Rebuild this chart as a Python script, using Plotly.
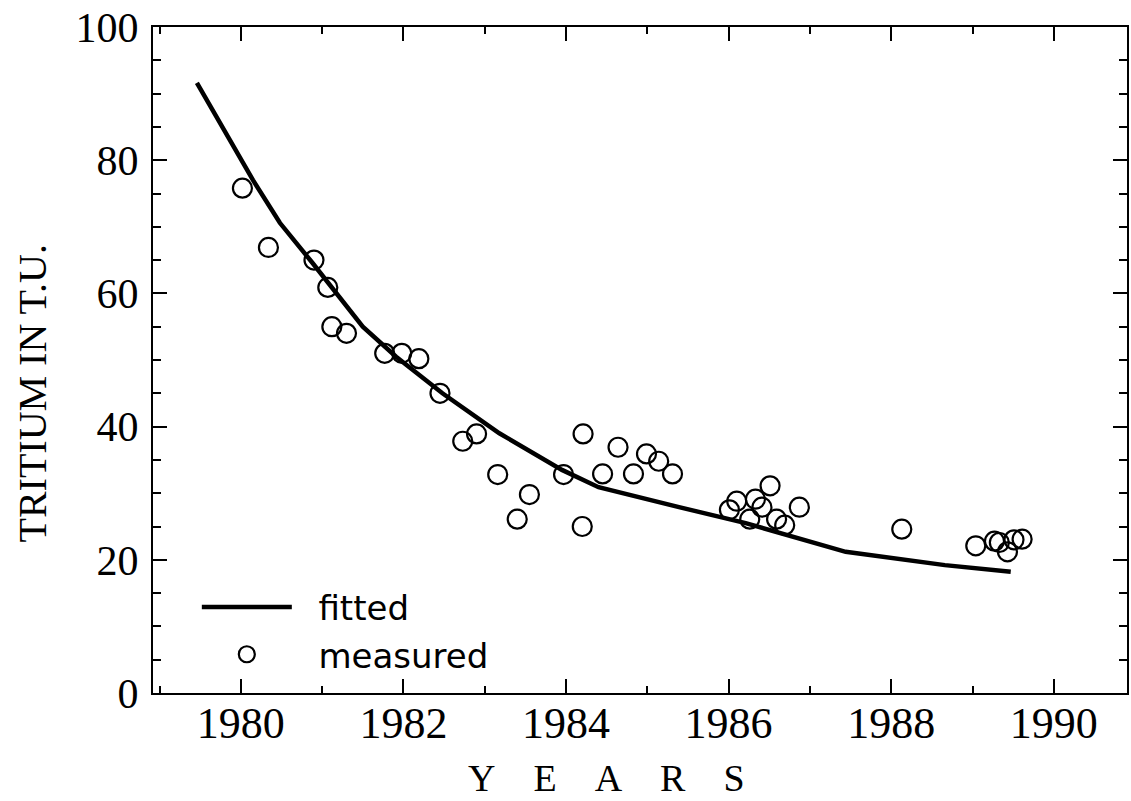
import plotly.graph_objects as go

# Measured tritium values (T.U.) by year
meas_year = [1980.02, 1980.34, 1980.90, 1981.07, 1981.12, 1981.30, 1981.77, 1981.98, 1982.19,
             1982.45, 1982.73, 1982.90, 1983.16, 1983.40, 1983.55, 1983.97, 1984.20, 1984.21,
             1984.45, 1984.64, 1984.83, 1984.99, 1985.14, 1985.31, 1986.01, 1986.10, 1986.26,
             1986.33, 1986.41, 1986.51, 1986.59, 1986.69, 1986.87, 1988.13, 1989.04, 1989.27,
             1989.33, 1989.43, 1989.51, 1989.61]
meas_tu = [75.8, 66.9, 65.0, 60.9, 55.0, 54.0, 51.0, 51.0, 50.2,
           45.0, 37.8, 38.9, 32.8, 26.1, 29.8, 32.8, 25.0, 38.9,
           32.9, 36.9, 32.9, 35.9, 34.8, 32.9, 27.5, 28.8, 26.1,
           29.1, 27.9, 31.1, 26.1, 25.2, 27.9, 24.6, 22.1, 22.8,
           22.6, 21.2, 23.0, 23.1]

# Fitted curve
fit_year = [1979.46, 1980.15, 1980.48, 1980.88, 1981.50, 1981.91, 1982.48, 1983.18,
            1983.95, 1984.40, 1985.39, 1986.21, 1987.44, 1988.66, 1989.47]
fit_tu = [91.6, 77.0, 70.6, 64.6, 55.0, 50.5, 45.0, 39.0,
          33.5, 30.9, 27.9, 25.5, 21.2, 19.2, 18.2]

x_ticks = [1980, 1982, 1984, 1986, 1988, 1990]
y_ticks = [0, 20, 40, 60, 80, 100]

x_title = "\u00a0\u00a0\u00a0\u00a0".join(list("YEARS"))
y_title = "TRITIUM IN T.U."

serif = "Liberation Serif, Times New Roman, serif"
sans = "DejaVu Sans, sans-serif"

fig = go.Figure()
fig.add_trace(go.Scatter(x=fit_year, y=fit_tu, mode="lines", name="\u00a0\u00a0fitted",
                         line=dict(color="black", width=4.5)))
fig.add_trace(go.Scatter(x=meas_year, y=meas_tu, mode="markers", name="\u00a0\u00a0measured",
                         marker=dict(symbol="circle-open", size=19, color="black",
                                     line=dict(color="black", width=2.2))))

fig.update_layout(
    width=1131, height=801,
    margin=dict(l=153, r=2, t=27, b=108),
    paper_bgcolor="white", plot_bgcolor="white",
    showlegend=True,
    legend=dict(x=0.045, y=0.172, xanchor="left", yanchor="top",
                font=dict(family=sans, size=34, color="black"),
                bgcolor="rgba(0,0,0,0)", itemwidth=90, tracegroupgap=0,
                traceorder="normal"),
    xaxis=dict(range=[1978.92, 1990.90], tickvals=x_ticks, ticktext=[str(v) for v in x_ticks],
               showgrid=False, zeroline=False, showline=True, linecolor="black", linewidth=2,
               mirror="allticks", ticks="inside", ticklen=14, tickwidth=2, tickcolor="black",
               minor=dict(dtick=1, tick0=1980, ticks="inside", ticklen=7, tickwidth=2, tickcolor="black"),
               tickfont=dict(family=serif, size=44, color="black"),
               ticklabelstandoff=-10),
    yaxis=dict(range=[0, 100], tickvals=y_ticks, ticktext=[str(v) for v in y_ticks],
               showgrid=False, zeroline=False, showline=True, linecolor="black", linewidth=2,
               mirror="allticks", ticks="inside", ticklen=14, tickwidth=2, tickcolor="black",
               minor=dict(dtick=5, tick0=0, ticks="inside", ticklen=8, tickwidth=2, tickcolor="black"),
               tickfont=dict(family=serif, size=42, color="black"),
               ticklabelstandoff=4),
    annotations=[
        dict(text=x_title, xref="paper", yref="paper", x=0.466, y=-0.127,
             xanchor="center", yanchor="middle", showarrow=False,
             font=dict(family=serif, size=38, color="black")),
        dict(text=y_title, xref="paper", yref="paper", x=-0.124, y=0.45,
             xanchor="center", yanchor="middle", showarrow=False, textangle=-90,
             font=dict(family=serif, size=40, color="black")),
    ],
)

fig.write_html("out.html")
